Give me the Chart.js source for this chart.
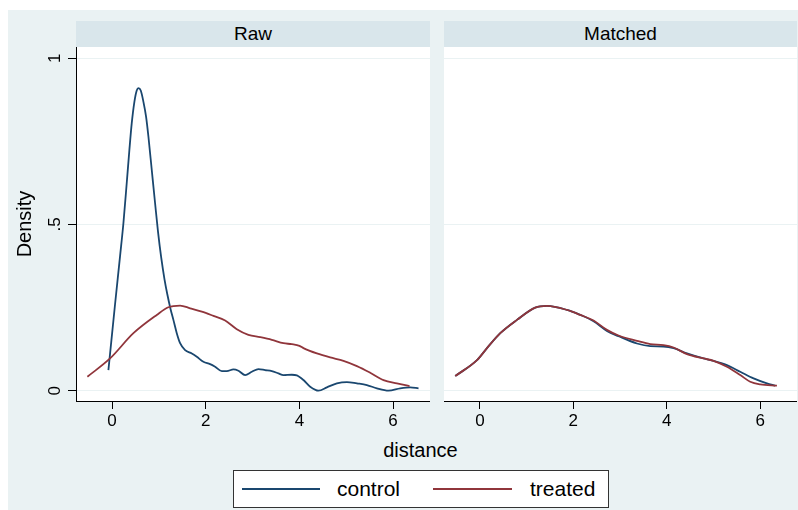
<!DOCTYPE html>
<html lang="en">
<head>
<meta charset="UTF-8">
<title>Density of distance: Raw vs Matched</title>
<script src="https://cdn.jsdelivr.net/npm/chart.js"></script>
<style>
  body { margin: 0; background: #fff; font-family: "Liberation Sans", Arial, sans-serif; color: #000; }
  #frame { position: absolute; left: 8px; top: 10px; width: 790px; height: 500px; background: #eaf2f3; }
  .strip { position: absolute; top: 21px; height: 26px; background: #d9e6eb; font-size: 19px; line-height: 26px; text-align: center; }
  canvas { position: absolute; }
  #xtitle { position: absolute; left: 320px; width: 201px; top: 438px; font-size: 20px; line-height: 24px; text-align: center; }
  #legend { position: absolute; left: 233px; top: 470px; width: 376px; height: 38px; box-sizing: border-box; border: 1px solid #333; background: #fff; }
  #legend .key { position: absolute; top: 17px; height: 2px; }
  #legend .lab { position: absolute; top: 6px; font-size: 21px; line-height: 24px; white-space: nowrap; }
</style>
</head>
<body>
<div id="frame"></div>
<div class="strip" id="strip0" style="left:76px; width:354px;"></div>
<div class="strip" id="strip1" style="left:444px; width:353px;"></div>
<canvas id="rawChart" width="422" height="383" style="left:8px; top:47px;"></canvas>
<canvas id="matchedChart" width="353" height="383" style="left:444px; top:47px;"></canvas>
<div id="xtitle"></div>
<div id="legend">
  <div class="key" id="key0" style="left:8px; width:78px;"></div>
  <div class="lab" id="lab0" style="left:103px;"></div>
  <div class="key" id="key1" style="left:199px; width:79px;"></div>
  <div class="lab" id="lab1" style="left:296px;"></div>
</div>
<script>
// panels, series and axis labels
const panels = ['Raw', 'Matched'];
const series = ['control', 'treated'];
const xTitle = 'distance';
const yTitle = 'Density';
const xTicks = [0, 2, 4, 6];
const yTicks = [0, 0.5, 1];
const yTickLabels = ['0', '.5', '1'];

// Raw sample, kernel density
const rawControlX = [-0.078, 0.064, 0.171, 0.242, 0.313, 0.370, 0.420, 0.477, 0.527, 0.563, 0.613, 0.670, 0.727, 0.777, 0.848, 0.919, 0.980, 1.050, 1.120, 1.180, 1.250, 1.310, 1.382, 1.453, 1.560, 1.703, 1.810, 1.951, 2.094, 2.201, 2.344, 2.451, 2.592, 2.699, 2.842, 2.985, 3.126, 3.269, 3.412, 3.553, 3.660, 3.839, 3.946, 4.088, 4.231, 4.409, 4.588, 4.801, 5.015, 5.229, 5.442, 5.656, 5.904, 6.154, 6.368, 6.545];
const rawControlY = [0.062, 0.260, 0.405, 0.503, 0.624, 0.724, 0.804, 0.869, 0.903, 0.910, 0.903, 0.869, 0.824, 0.764, 0.664, 0.564, 0.480, 0.400, 0.335, 0.290, 0.245, 0.213, 0.173, 0.143, 0.122, 0.112, 0.102, 0.087, 0.080, 0.072, 0.059, 0.059, 0.064, 0.060, 0.047, 0.057, 0.065, 0.062, 0.059, 0.052, 0.047, 0.048, 0.046, 0.032, 0.012, 0.000, 0.010, 0.022, 0.026, 0.022, 0.017, 0.007, 0.000, 0.007, 0.010, 0.007];
const rawTreatedX = [-0.527, -0.043, 0.456, 0.955, 1.203, 1.453, 1.667, 1.917, 2.165, 2.415, 2.664, 2.912, 3.162, 3.412, 3.660, 3.839, 4.002, 4.088, 4.374, 4.658, 4.942, 5.229, 5.513, 5.797, 6.083, 6.353];
const rawTreatedY = [0.042, 0.097, 0.173, 0.228, 0.251, 0.256, 0.248, 0.238, 0.225, 0.211, 0.185, 0.168, 0.161, 0.153, 0.143, 0.140, 0.135, 0.128, 0.112, 0.100, 0.090, 0.074, 0.054, 0.032, 0.022, 0.014];

// Matched sample
const matchedControlX = [-0.529, -0.064, 0.150, 0.435, 0.792, 1.184, 1.435, 1.863, 2.148, 2.433, 2.719, 2.968, 3.362, 3.647, 3.931, 4.146, 4.433, 4.788, 5.003, 5.289, 5.574, 5.860, 6.146, 6.323];
const matchedControlY = [0.044, 0.092, 0.128, 0.173, 0.213, 0.250, 0.255, 0.243, 0.228, 0.209, 0.180, 0.164, 0.142, 0.134, 0.133, 0.128, 0.112, 0.097, 0.090, 0.077, 0.057, 0.037, 0.022, 0.015];
const matchedTreatedX = [-0.529, -0.064, 0.150, 0.435, 0.792, 1.184, 1.435, 1.863, 2.148, 2.433, 2.719, 2.968, 3.362, 3.647, 3.931, 4.146, 4.433, 4.788, 5.003, 5.289, 5.574, 5.788, 6.002, 6.360];
const matchedTreatedY = [0.044, 0.092, 0.128, 0.173, 0.213, 0.250, 0.255, 0.243, 0.228, 0.211, 0.183, 0.166, 0.150, 0.140, 0.137, 0.130, 0.110, 0.097, 0.090, 0.072, 0.047, 0.027, 0.019, 0.015];

const colors = ['#1a476f', '#90353b'];
const fontFamily = '"Liberation Sans", Arial, sans-serif';

document.getElementById('strip0').textContent = panels[0];
document.getElementById('strip1').textContent = panels[1];
document.getElementById('xtitle').textContent = xTitle;
series.forEach((s, i) => {
    document.getElementById('key' + i).style.background = colors[i];
    document.getElementById('lab' + i).textContent = s;
});

// white plot region, the rest of the canvas shows the page background
const plotBg = {
    id: 'plotBg',
    beforeDraw(chart) {
        const a = chart.chartArea;
        chart.ctx.save();
        chart.ctx.fillStyle = '#fff';
        chart.ctx.fillRect(a.left, a.top, a.right - a.left, a.bottom - a.top);
        chart.ctx.restore();
    }
};

function points(xs, ys) {
    return xs.map((x, i) => ({ x: x, y: ys[i] }));
}

function makePanel(id, ctrlX, ctrlY, trtX, trtY, withYAxis) {
    const line = { pointRadius: 0, borderWidth: 1.8, cubicInterpolationMode: 'monotone', fill: false, borderJoinStyle: 'round' };
    new Chart(document.getElementById(id), {
        type: 'line',
        data: {
            datasets: [
                Object.assign({ label: series[1], data: points(trtX, trtY), borderColor: colors[1] }, line),
                Object.assign({ label: series[0], data: points(ctrlX, ctrlY), borderColor: colors[0] }, line)
            ]
        },
        options: {
            responsive: false,
            animation: false,
            layout: { padding: 0 },
            plugins: { legend: { display: false }, tooltip: { enabled: false } },
            scales: {
                x: {
                    type: 'linear',
                    min: -0.77,
                    max: 6.79,
                    afterBuildTicks: s => { s.ticks = xTicks.map(v => ({ value: v })); },
                    ticks: { font: { family: fontFamily, size: 17 }, color: '#000', padding: 2, maxRotation: 0, autoSkip: false },
                    grid: { drawOnChartArea: false, tickLength: 8, tickColor: '#000' },
                    border: { color: '#000' },
                    afterFit: s => { s.height = 29; s.paddingLeft = 0; s.paddingRight = 0; }
                },
                y: {
                    min: -0.031,
                    max: 1.034,
                    afterBuildTicks: s => { s.ticks = yTicks.map(v => ({ value: v })); },
                    ticks: {
                        display: withYAxis,
                        font: { family: fontFamily, size: 17 }, color: '#000',
                        padding: 6, minRotation: 90, maxRotation: 90, crossAlign: 'center',
                        callback: (v, i) => yTickLabels[i]
                    },
                    grid: { color: '#eaf2f3', tickColor: '#000', tickLength: 8, drawTicks: withYAxis },
                    border: { display: withYAxis, color: '#000' },
                    title: {
                        display: withYAxis, text: yTitle, color: '#000',
                        font: { family: fontFamily, size: 20 }, padding: { top: 5, bottom: 0 }
                    },
                    afterFit: s => { s.width = withYAxis ? 68 : 0; s.paddingTop = 0; s.paddingBottom = 0; }
                }
            }
        },
        plugins: [plotBg]
    });
}

makePanel('rawChart', rawControlX, rawControlY, rawTreatedX, rawTreatedY, true);
makePanel('matchedChart', matchedControlX, matchedControlY, matchedTreatedX, matchedTreatedY, false);
</script>
</body>
</html>
